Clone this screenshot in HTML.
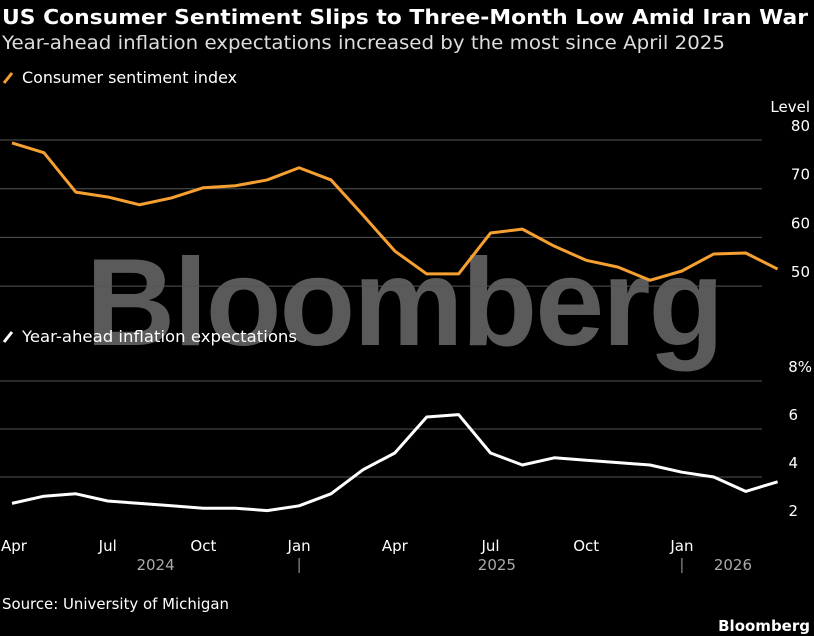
<!DOCTYPE html>
<html><head><meta charset="utf-8"><style>
body{margin:0;background:#000;width:814px;height:636px;overflow:hidden;font-family:"DejaVu Sans","Liberation Sans",sans-serif;}
svg{display:block}
</style></head><body>
<svg width="814" height="636" id="c">
<text x="2" y="24" fill="#fff" font-size="20" font-weight="bold" textLength="806" lengthAdjust="spacingAndGlyphs">US Consumer Sentiment Slips to Three-Month Low Amid Iran War</text>
<text x="2" y="49" fill="#ddd" font-size="19" textLength="723" lengthAdjust="spacingAndGlyphs">Year-ahead inflation expectations increased by the most since April 2025</text>
<text x="404" y="345" fill="#5a5a5a" font-family="Liberation Sans" font-size="124" font-weight="bold" text-anchor="middle" letter-spacing="-2">Bloomberg</text>
<g><line x1="4" y1="83" x2="12" y2="73" stroke="#f5a030" stroke-width="3"/><text x="22" y="83" fill="#fff" font-size="16" textLength="215" lengthAdjust="spacingAndGlyphs">Consumer sentiment index</text></g>
<g><line x1="4" y1="342" x2="12" y2="332" stroke="#fff" stroke-width="3"/><text x="22" y="342" fill="#fff" font-size="16" textLength="275" lengthAdjust="spacingAndGlyphs">Year-ahead inflation expectations</text></g>
<text x="810" y="112" fill="#fff" font-size="15" text-anchor="end">Level</text>
<g id="g"></g>
<text x="2" y="609" fill="#fff" font-size="15" textLength="227" lengthAdjust="spacingAndGlyphs">Source: University of Michigan</text>
<text x="810" y="631" fill="#fff" font-size="15" font-weight="bold" text-anchor="end">Bloomberg</text>
</svg>
<script>
const sentiment=[79.4,77.4,69.3,68.3,66.7,68.1,70.2,70.6,71.8,74.3,71.8,64.6,57.2,52.5,52.5,60.9,61.7,58.2,55.3,53.9,51.2,53.1,56.6,56.8,53.5];
const inflation=[2.9,3.2,3.3,3.0,2.9,2.8,2.7,2.7,2.6,2.8,3.3,4.3,5.0,6.5,6.6,5.0,4.5,4.8,4.7,4.6,4.5,4.2,4.0,3.4,3.8];
const sentTicks=[80,70,60,50];
const inflTicks=[8,6,4,2];
const monthLabels=["Apr","Jul","Oct","Jan","Apr","Jul","Oct","Jan"];
const monthIdx=[0,3,6,9,12,15,18,21];
const years=["2024","2025","2026"];
const yearIdx=[4.5,15.2,22.6];
const ns="http://www.w3.org/2000/svg",G=document.getElementById('g');
const x=i=>12+i*31.9;
const ys=v=>140+(80-v)*4.87;
const yi=v=>381+(8-v)*24;
function el(t,a){const e=document.createElementNS(ns,t);for(const k in a)e.setAttribute(k,a[k]);G.appendChild(e);return e;}
sentTicks.forEach(v=>{let l=el('line',{x1:0,x2:762,y1:ys(v),y2:ys(v),stroke:'#555','stroke-width':1});


let t=el('text',{x:810,y:ys(v)-9,fill:'#fff','font-size':15,'text-anchor':'end'});t.textContent=v;

});
inflTicks.forEach(v=>{if(v>2){let l=el('line',{x1:0,x2:762,y1:yi(v),y2:yi(v),stroke:'#555','stroke-width':1});

}
let t=el('text',{x:798,y:yi(v)-9,fill:'#fff','font-size':15,'text-anchor':'end'});t.textContent=v+(v==8?'%':'');
if(v==8)t.setAttribute('x',812);

});
let p1=el('polyline',{points:sentiment.map((v,i)=>x(i)+','+ys(v)).join(' '),fill:'none',stroke:'#f5a030','stroke-width':3,'stroke-linejoin':'round'});


let p2=el('polyline',{points:inflation.map((v,i)=>x(i)+','+yi(v)).join(' '),fill:'none',stroke:'#fff','stroke-width':3,'stroke-linejoin':'round'});


monthLabels.forEach((m,k)=>{let t=el('text',{x:x(monthIdx[k]),y:551,fill:'#fff','font-size':15,'text-anchor':k==0?'start':'middle'});if(k==0)t.setAttribute('x',1);t.textContent=m;

});
years.forEach((y,k)=>{let t=el('text',{x:x(yearIdx[k]),y:570,fill:'#aaa','font-size':15,'text-anchor':'middle'});t.textContent=y;

});
[9,21].forEach(i=>{let l=el('line',{x1:x(i),x2:x(i),y1:558,y2:573,stroke:'#aaa','stroke-width':1});

});
</script>
</body></html>
